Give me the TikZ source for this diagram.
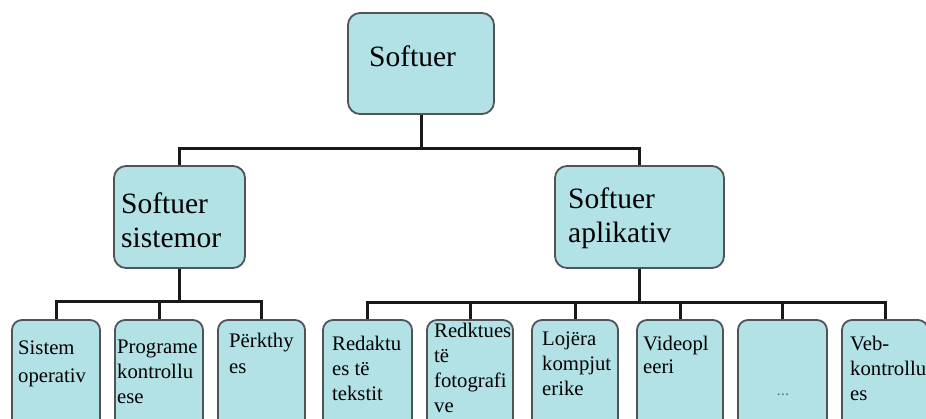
\documentclass[tikz,border=0pt]{standalone}
\usepackage{fontspec}
\setmainfont{Liberation Serif}
\definecolor{boxfill}{RGB}{178,226,230}
\definecolor{boxline}{RGB}{80,84,86}
\definecolor{dotgray}{RGB}{110,120,122}
\newcommand{\bigtxt}[1]{\parbox[t]{150pt}{\raggedright\fontsize{29.5}{34}\selectfont #1}}
\newcommand{\smalltxt}[2][25]{\parbox[t]{110pt}{\raggedright\fontsize{20.7}{#1}\selectfont #2}}
\tikzset{
  box/.style={draw=boxline, fill=boxfill, line width=1.8pt, rounded corners=12pt, inner sep=0pt},
  leafbox/.style={box, rounded corners=10pt, minimum width=88pt, minimum height=110pt},
  label/.style={anchor=base west, inner sep=0pt, text=black},
  link/.style={line width=3pt, draw=black!90}
}
\begin{document}
\begin{tikzpicture}[x=1pt,y=-1pt]
\useasboundingbox (0,0) rectangle (926,418);
\clip (0,0) rectangle (926,418);
\fill[white] (0,0) rectangle (926,418);

% root and second level
\node[box, minimum width=146pt, minimum height=101pt] (soft) at (421,63.5) {};
\node[box, minimum width=131pt, minimum height=102pt] (sys) at (179.5,217) {};
\node[box, minimum width=169pt, minimum height=102pt] (app) at (639.5,217) {};

% leaves
\node[leafbox] (l1) at (56,375) {};
\node[leafbox] (l2) at (159,375) {};
\node[leafbox, minimum width=87pt] (l3) at (261.5,375) {};
\node[leafbox, minimum width=89pt] (r1) at (367.5,375) {};
\node[leafbox, minimum width=86pt] (r2) at (470,375) {};
\node[leafbox, minimum width=86pt] (r3) at (575,375) {};
\node[leafbox, minimum width=86pt] (r4) at (680,375) {};
\node[leafbox, minimum width=89pt] (r5) at (782.5,375) {};
\node[leafbox, minimum width=86pt] (r6) at (885,375) {};

% tree links
\draw[link] (soft.south) -- ++(0,34) -| (sys.north);
\draw[link] (soft.south) -- ++(0,34) -| (app.north);
\foreach \n in {l1,l2,l3}
  \draw[link] (sys.south) -- ++(0,33) -| (\n.north);
\foreach \n in {r1,r2,r3,r4,r5,r6}
  \draw[link] (app.south) -- ++(0,34) -| (\n.north);

% texts
\node[label] (tSoft) at (369,66) {\bigtxt{Softuer}};
\node[label] (tSys) at (121,213) {\bigtxt{Softuer\\sistemor}};
\node[label] (tApp) at (568,208) {\bigtxt{Softuer\\aplikativ}};

\node[label] (t1) at (18,354) {\smalltxt[28]{Sistem\\operativ}};
\node[label] (t2) at (117,353) {\smalltxt{Programe\\kontrollu\\ese}};
\node[label] (t3) at (229,347) {\smalltxt[26]{Përkthy\\es}};
\node[label] (t4) at (332,350) {\smalltxt{Redaktu\\es të\\tekstit}};
\node[label] (t5) at (434,337) {\smalltxt{Redktues\\të\\fotografi\\ve}};
\node[label] (t6) at (542,345) {\smalltxt{Lojëra\\kompjut\\erike}};
\node[label] (t7) at (643,350) {\smalltxt[23]{Videopl\\eeri}};
\node[anchor=base, inner sep=0pt, text=dotgray, font=\fontsize{17}{18}\selectfont] (t8) at (783,395) {...};
\node[label] (t9) at (850,350) {\smalltxt{Veb-\\kontrollu\\es}};
\end{tikzpicture}
\end{document}
